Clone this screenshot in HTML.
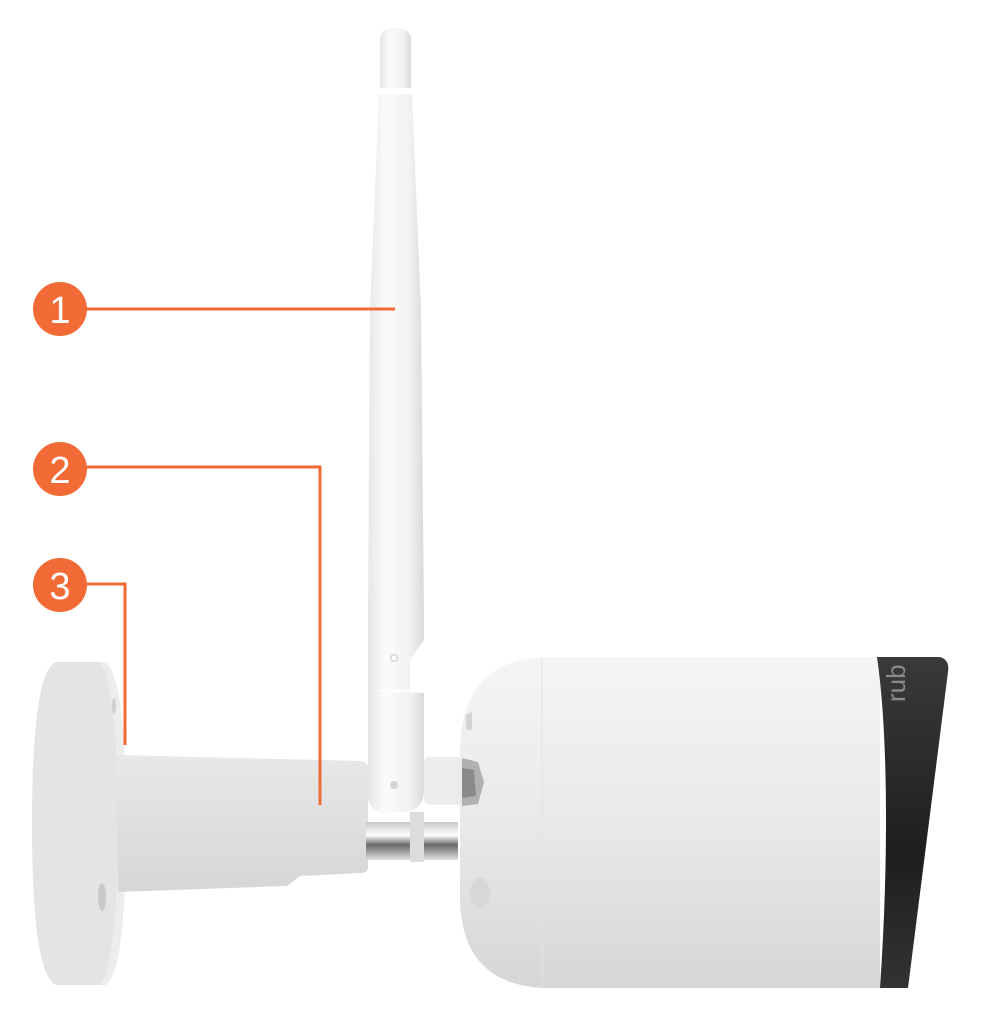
<!DOCTYPE html>
<html><head><meta charset="utf-8"><style>
html,body{margin:0;padding:0;background:#fff;}
svg{display:block;}
</style></head><body>
<svg width="981" height="1024" viewBox="0 0 981 1024" xmlns="http://www.w3.org/2000/svg">
<defs>
<linearGradient id="ant" x1="0" x2="1" y1="0" y2="0">
<stop offset="0" stop-color="#e6e6e6"/><stop offset="0.3" stop-color="#fbfbfb"/><stop offset="0.75" stop-color="#f2f2f2"/><stop offset="1" stop-color="#d9d9d9"/></linearGradient>
<linearGradient id="body" x1="0" x2="0" y1="0" y2="1">
<stop offset="0" stop-color="#f5f5f5"/><stop offset="0.5" stop-color="#e9e9e9"/><stop offset="1" stop-color="#d6d6d6"/></linearGradient>
<linearGradient id="arm" x1="0" x2="0" y1="0" y2="1">
<stop offset="0" stop-color="#e8e8e8"/><stop offset="1" stop-color="#d6d6d6"/></linearGradient>
<linearGradient id="chrome" x1="0" x2="0" y1="0" y2="1">
<stop offset="0" stop-color="#c8c8c8"/><stop offset="0.35" stop-color="#ffffff"/><stop offset="0.6" stop-color="#6a6a6a"/><stop offset="1" stop-color="#e0e0e0"/></linearGradient>
<linearGradient id="ring" x1="0" x2="0" y1="0" y2="1">
<stop offset="0" stop-color="#3a3a3a"/><stop offset="0.6" stop-color="#1e1e1e"/><stop offset="1" stop-color="#333"/></linearGradient>
</defs>

<!-- wall plate -->
<path d="M56 662 L106 662 Q126 680 126 823 Q126 970 106 985 L56 985 Q32 975 32 823 Q32 672 56 662 Z" fill="#e4e4e4"/>
<path d="M106 662 Q126 680 126 823 Q126 970 106 985 L100 985 Q118 960 118 823 Q118 690 100 662Z" fill="#ededed"/>
<ellipse cx="102" cy="897" rx="4" ry="14" fill="#c9c9c9"/>
<ellipse cx="114" cy="706" rx="2" ry="8" fill="#d0d0d0"/>

<!-- arm -->
<path d="M116 755 L362 761 Q368 762 368 768 L368 868 Q368 872 362 873 L300 876 L287 886 L118 892 Z" fill="url(#arm)"/>

<!-- chrome -->
<rect x="366" y="822" width="92" height="38" fill="url(#chrome)"/>
<rect x="410" y="812" width="14" height="50" fill="#dcdcdc"/>

<!-- antenna -->
<path d="M380 40 Q380 28 395 28 Q411 28 411 40 L411 88 L380 88 Z" fill="url(#ant)"/>
<path d="M379 94 L412 94 L421 310 L424 620 L368 620 L370 310 Z" fill="url(#ant)"/>
<path d="M368 620 L424 620 L424 640 L410 660 L410 690 L368 690 Z" fill="url(#ant)"/>
<path d="M368 690 L424 693 L424 790 Q424 810 404 812 L382 812 Q368 810 368 795 Z" fill="url(#ant)"/>
<circle cx="394" cy="658" r="4" fill="#d6d6d6"/><circle cx="394" cy="658" r="2.5" fill="#fff"/>
<circle cx="394" cy="785" r="4" fill="#d6d6d6"/>
<rect x="424" y="757" width="40" height="48" rx="6" fill="#ececec"/>

<!-- camera body -->
<path d="M545 657 L880 657 L880 988 L545 988 Q462 985 460 900 L460 745 Q464 660 545 657 Z" fill="url(#body)"/>
<line x1="542" y1="658" x2="542" y2="987" stroke="#e2e2e2" stroke-width="1"/>
<path d="M466 715 L472 712 L472 730 L466 730Z" fill="#d4d4d4"/>
<path d="M462 758 L478 762 L484 782 L478 804 L462 806 Z" fill="#b0b0b0"/>
<path d="M462 768 L474 770 L476 796 L462 798 Z" fill="#8a8a8a"/>
<ellipse cx="480" cy="893" rx="10" ry="15" fill="#d8d8d8"/>

<!-- dark ring -->
<path d="M877 657 L940 657 Q950 660 948 672 L908 988 L880 988 Q886 900 886 820 Q886 720 877 657 Z" fill="url(#ring)"/>
<text x="0" y="0" transform="translate(905,702) rotate(-90)" font-family="Liberation Sans, sans-serif" font-size="26" fill="#8a8a8a">rub</text>

<!-- callouts -->
<g stroke="#F26A35" stroke-width="3" fill="none">
<path d="M80 309 L395 309"/>
<path d="M80 467 L320 467 L320 805"/>
<path d="M80 584 L125 584 L125 745"/>
</g>
<g fill="#F26A35">
<circle cx="60" cy="309" r="27"/>
<circle cx="60" cy="469" r="27"/>
<circle cx="60" cy="585" r="27"/>
</g>
<g fill="#fff" font-family="Liberation Sans, sans-serif" font-size="38" text-anchor="middle">
<text x="60" y="323">1</text>
<text x="60" y="483">2</text>
<text x="60" y="599">3</text>
</g>
</svg>
</body></html>
